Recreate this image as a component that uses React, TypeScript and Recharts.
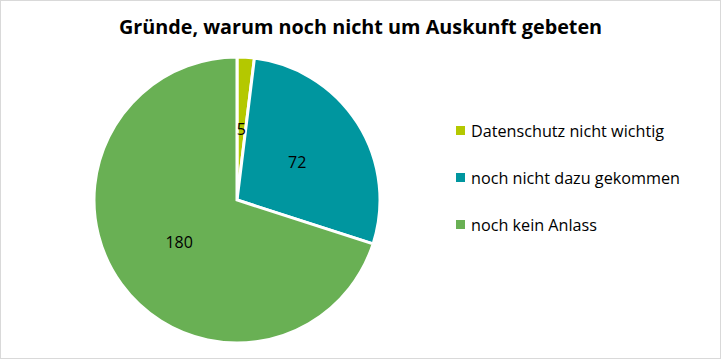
import React from 'react';
import { PieChart, Pie, Cell } from 'recharts';

const categories = ['Datenschutz nicht wichtig', 'noch nicht dazu gekommen', 'noch kein Anlass'];
const values = [5, 72, 180];
const colors = ['#b4c800', '#00969f', '#69b054'];

const chartData = categories.map((name, i) => ({ name, value: values[i], fill: colors[i] }));

const FONT = '"Open Sans", Lato, sans-serif';

const renderLabel = ({ cx, cy, midAngle, outerRadius, value }: any) => {
    const RADIAN = Math.PI / 180;
    const r = outerRadius * 0.5;
    const x = cx + r * Math.cos(-midAngle * RADIAN);
    const y = cy + r * Math.sin(-midAngle * RADIAN);
    return (
        <text x={x} y={y} fill="#000" textAnchor="middle" dominantBaseline="central"
            style={{ fontFamily: FONT, fontSize: 16 }}>
            {value}
        </text>
    );
};

export default function App() {
    return (
        <div style={{ position: 'absolute', left: 0, top: 0, width: 719, height: 357, border: '1px solid #d9d9d9', background: '#fff' }}>
            <div style={{ position: 'absolute', left: 0, top: 12, width: 719, textAlign: 'center', fontFamily: FONT, fontWeight: 700, fontSize: 19.8, color: '#000' }}>
                Gründe, warum noch nicht um Auskunft gebeten
            </div>
            <PieChart width={719} height={357} style={{ position: 'absolute', left: 0, top: 0 }}>
                <Pie
                    data={chartData}
                    dataKey="value"
                    nameKey="name"
                    cx={231}
                    cy={194}
                    outerRadius={143}
                    startAngle={90}
                    endAngle={-270}
                    stroke="#fff"
                    strokeWidth={3}
                    label={renderLabel}
                    labelLine={false}
                    isAnimationActive={false}
                >
                    {chartData.map((d, i) => (
                        <Cell key={`cell-${i}`} fill={d.fill} />
                    ))}
                </Pie>
            </PieChart>
            <div style={{ position: 'absolute', left: 455, top: 106, fontFamily: FONT, fontSize: 16.2, color: '#000' }}>
                {chartData.map((d) => (
                    <div key={d.name} style={{ display: 'flex', alignItems: 'center', height: 47 }}>
                        <span style={{ width: 9, height: 9, background: d.fill, marginRight: 6, display: 'inline-block' }} />
                        <span>{d.name}</span>
                    </div>
                ))}
            </div>
        </div>
    );
}
